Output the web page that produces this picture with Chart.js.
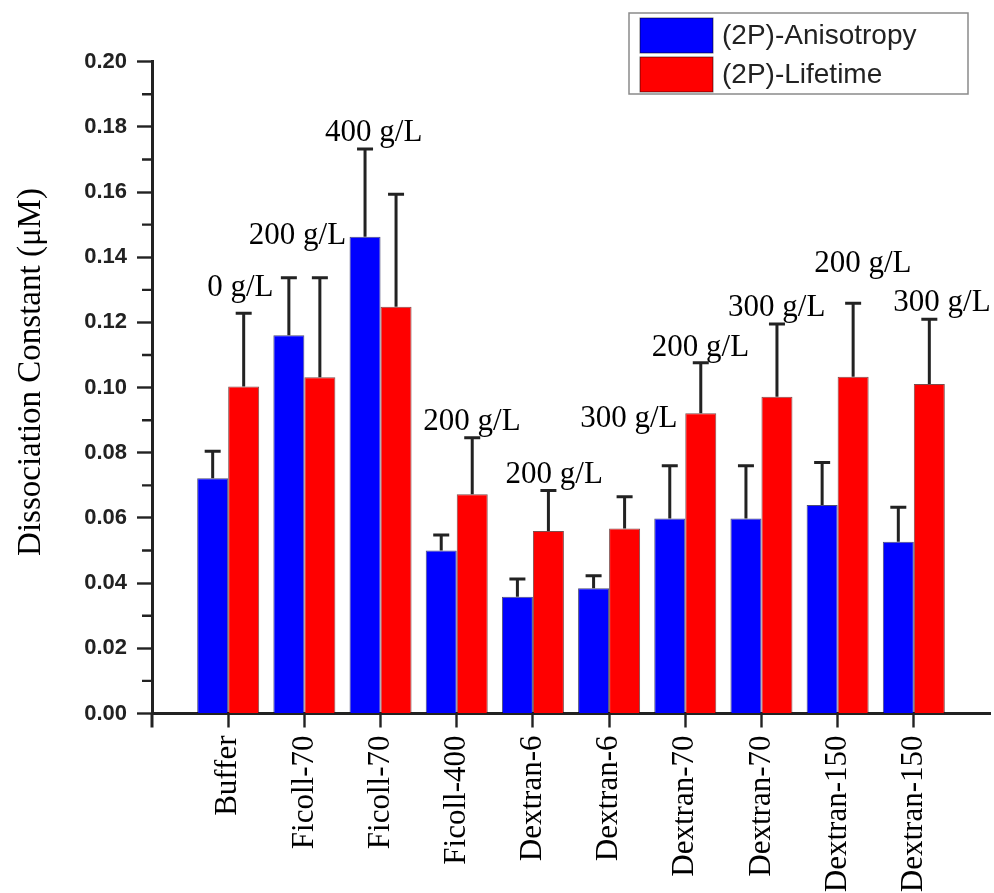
<!DOCTYPE html>
<html>
<head>
<meta charset="utf-8">
<script src="https://cdn.jsdelivr.net/npm/chart.js@4.4.1/dist/chart.umd.min.js"></script>
<style>
  html, body { margin: 0; padding: 0; background: #ffffff; }
  #wrap { width: 994px; height: 893px; }
</style>
</head>
<body>
<div id="wrap"><canvas id="chart" width="994" height="893"></canvas></div>
<script>
// Crowding agents tested, with the concentration used for each pair of bars
const categories = ['Buffer', 'Ficoll-70', 'Ficoll-70', 'Ficoll-400', 'Dextran-6', 'Dextran-6',
                    'Dextran-70', 'Dextran-70', 'Dextran-150', 'Dextran-150'];
const concentrations = ['0 g/L', '200 g/L', '400 g/L', '200 g/L', '200 g/L', '300 g/L',
                        '200 g/L', '300 g/L', '200 g/L', '300 g/L'];

// Dissociation constants (µM) and their upper error
const anisotropy    = [0.0722, 0.1161, 0.1463, 0.0500, 0.0358, 0.0384, 0.0598, 0.0598, 0.0640, 0.0527];
const anisotropyErr = [0.0083, 0.0176, 0.0269, 0.0048, 0.0055, 0.0039, 0.0162, 0.0162, 0.0130, 0.0106];
const lifetime      = [0.1003, 0.1032, 0.1248, 0.0673, 0.0560, 0.0568, 0.0921, 0.0972, 0.1033, 0.1011];
const lifetimeErr   = [0.0225, 0.0305, 0.0345, 0.0173, 0.0124, 0.0097, 0.0155, 0.0223, 0.0226, 0.0199];

const seriesNames = ['(2P)-Anisotropy', '(2P)-Lifetime'];
const yTicks = [0, 0.02, 0.04, 0.06, 0.08, 0.10, 0.12, 0.14, 0.16, 0.18, 0.20];

// Where each concentration note sits: shift from the category centre (in category widths) and height (axis units)
const notePlacement = [
  [0.16, 0.1312], [-0.09, 0.1471], [-0.09, 0.1787], [0.20, 0.0900], [0.28, 0.0738],
  [0.26, 0.0910], [0.20, 0.1128], [0.20, 0.1250], [0.33, 0.1385], [0.37, 0.1266]
];

// Empty slots at both ends give the category axis its margins
const axisLabels = [''].concat(categories, ['']);
const pad = arr => [null].concat(arr, [null]);

const INK = '#222222';
const SERIF = '"Liberation Serif", "Times New Roman", serif';
const SANS = '"Liberation Sans", Arial, sans-serif';

const errorBars = {
  id: 'errorBars',
  afterDatasetsDraw(chart) {
    const ctx = chart.ctx;
    const y = chart.scales.y;
    chart.data.datasets.forEach((ds, di) => {
      const meta = chart.getDatasetMeta(di);
      meta.data.forEach((bar, j) => {
        const v = ds.data[j], e = ds.errors[j];
        if (v == null || e == null) return;
        const top = y.getPixelForValue(v + e);
        ctx.save();
        ctx.strokeStyle = INK;
        ctx.lineWidth = 3;
        ctx.beginPath();
        ctx.moveTo(bar.x, bar.y);
        ctx.lineTo(bar.x, top);
        ctx.moveTo(bar.x - 8, top);
        ctx.lineTo(bar.x + 8, top);
        ctx.stroke();
        ctx.restore();
      });
    });
  }
};

const decorations = {
  id: 'decorations',
  afterDraw(chart) {
    const ctx = chart.ctx;
    const x = chart.scales.x, y = chart.scales.y;
    const area = chart.chartArea;
    ctx.save();

    // minor ticks on the value axis
    ctx.strokeStyle = INK;
    ctx.lineWidth = 2.4;
    ctx.beginPath();
    for (let k = 1; k < 20; k += 2) {
      const py = y.getPixelForValue(k / 100);
      ctx.moveTo(area.left - 10, py);
      ctx.lineTo(area.left, py);
    }
    ctx.stroke();
    // value axis runs slightly past the baseline
    ctx.lineWidth = 3;
    ctx.beginPath();
    ctx.moveTo(area.left, area.bottom);
    ctx.lineTo(area.left, area.bottom + 14);
    ctx.stroke();

    // concentration notes
    ctx.fillStyle = '#000';
    ctx.font = '31px ' + SERIF;
    ctx.textAlign = 'center';
    ctx.textBaseline = 'alphabetic';
    const slot = x.getPixelForValue(2) - x.getPixelForValue(1);
    concentrations.forEach((txt, i) => {
      const [dx, v] = notePlacement[i];
      const px = x.getPixelForValue(i + 1) + dx * slot;
      const py = y.getPixelForValue(v) + 10;
      ctx.fillText(txt, px, py);
    });

    // value axis title
    ctx.save();
    ctx.translate(31, 372);
    ctx.rotate(-Math.PI / 2);
    ctx.font = '33px ' + SERIF;
    ctx.textAlign = 'center';
    ctx.textBaseline = 'middle';
    ctx.fillStyle = '#000';
    ctx.fillText('Dissociation Constant (\u03bcM)', 0, 0);
    ctx.restore();

    // legend
    const lx = 629, ly = 13, lw = 339, lh = 81;
    ctx.fillStyle = '#fff';
    ctx.fillRect(lx, ly, lw, lh);
    ctx.strokeStyle = '#8a8a8a';
    ctx.lineWidth = 1.5;
    ctx.strokeRect(lx, ly, lw, lh);
    ctx.font = '28px ' + SANS;
    ctx.textAlign = 'left';
    ctx.textBaseline = 'middle';
    chart.data.datasets.forEach((ds, i) => {
      const sy = 18 + i * 39;
      ctx.fillStyle = ds.backgroundColor;
      ctx.fillRect(640, sy, 73, 35);
      ctx.strokeStyle = 'rgba(0,0,0,0.55)';
      ctx.lineWidth = 1;
      ctx.strokeRect(640, sy, 73, 35);
      ctx.fillStyle = '#222';
      ctx.fillText(ds.label, 722, sy + 18);
    });
    ctx.restore();
  }
};

new Chart(document.getElementById('chart'), {
  type: 'bar',
  data: {
    labels: axisLabels,
    datasets: [
      { label: seriesNames[0], data: pad(anisotropy), errors: pad(anisotropyErr),
        backgroundColor: '#0000ff', borderColor: 'rgba(0,0,60,0.7)', borderWidth: 1 },
      { label: seriesNames[1], data: pad(lifetime), errors: pad(lifetimeErr),
        backgroundColor: '#ff0000', borderColor: 'rgba(70,0,0,0.7)', borderWidth: 1 }
    ]
  },
  options: {
    responsive: false,
    animation: false,
    devicePixelRatio: 1,
    layout: { padding: { left: 0, right: 4, top: 61.7, bottom: 0 } },
    datasets: { bar: { categoryPercentage: 0.814, barPercentage: 1.0 } },
    plugins: { legend: { display: false }, tooltip: { enabled: false }, title: { display: false } },
    scales: {
      x: {
        type: 'category',
        offset: false,
        grid: {
          offset: false,
          drawOnChartArea: false,
          drawTicks: true,
          tickLength: 14,
          tickWidth: 2.4,
          tickColor: c => (c.index === 0 || c.index === axisLabels.length - 1) ? 'rgba(0,0,0,0)' : INK
        },
        border: { display: true, color: INK, width: 3 },
        ticks: {
          autoSkip: false,
          minRotation: 90,
          maxRotation: 90,
          padding: 8,
          color: '#000',
          font: { family: SERIF, size: 31 }
        },
        afterFit(scale) {
          scale.height = 179.5;
          scale.paddingLeft = 0;
          scale.paddingRight = 0;
        }
      },
      y: {
        min: 0,
        max: 0.2,
        afterBuildTicks(scale) { scale.ticks = yTicks.map(v => ({ value: v })); },
        grid: {
          drawOnChartArea: false,
          drawTicks: true,
          tickLength: 15,
          tickWidth: 2.4,
          tickColor: INK
        },
        border: { display: true, color: INK, width: 3 },
        ticks: {
          padding: 10,
          color: '#222',
          font: { family: SANS, size: 22, weight: 'bold' },
          callback: v => Number(v).toFixed(2)
        },
        afterFit(scale) {
          scale.width = 152;
          scale.paddingTop = 0;
          scale.paddingBottom = 0;
        }
      }
    }
  },
  plugins: [errorBars, decorations]
});
</script>
</body>
</html>
